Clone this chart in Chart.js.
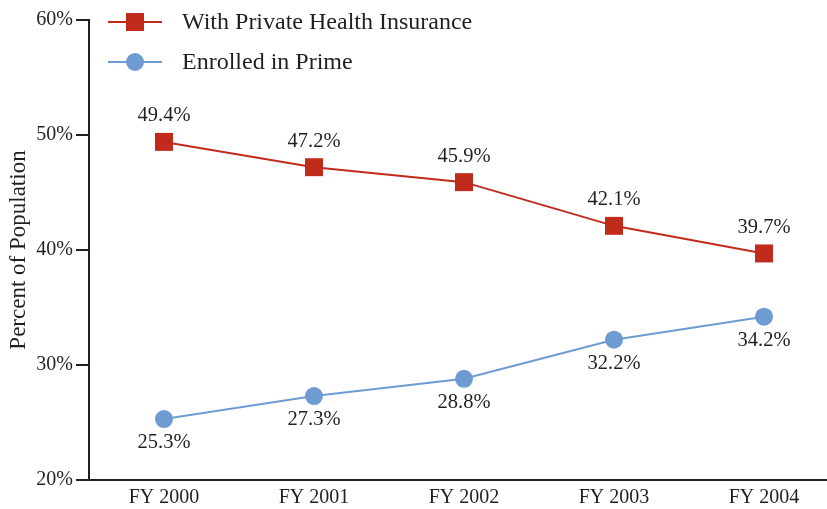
<!DOCTYPE html>
<html>
<head>
<meta charset="utf-8">
<script src="https://cdn.jsdelivr.net/npm/chart.js@4/dist/chart.umd.min.js"></script>
<style>
  body { margin: 0; background: #fff; }
  #wrap { width: 827px; height: 509px; position: relative; }
</style>
</head>
<body>
<div id="wrap"><canvas id="chart"></canvas></div>
<script>
// Datos
const categorias = ['FY 2000', 'FY 2001', 'FY 2002', 'FY 2003', 'FY 2004'];
const privada = [49.4, 47.2, 45.9, 42.1, 39.7];
const prime = [25.3, 27.3, 28.8, 32.2, 34.2];
const yTicks = [20, 30, 40, 50, 60];

const ROJO = '#c02b1c';
const AZUL = '#6f9bd3';
const TEXTO = '#231f20';
const FUENTE = '"Liberation Serif", serif';

Chart.defaults.font.family = FUENTE;
Chart.defaults.color = TEXTO;

// Etiquetas de valores sobre / bajo los puntos
const etiquetasPlugin = {
    id: 'etiquetas',
    afterDatasetsDraw(chart) {
        const ctx = chart.ctx;
        ctx.save();
        ctx.font = '20.5px ' + FUENTE;
        ctx.fillStyle = TEXTO;
        ctx.textAlign = 'center';
        ctx.textBaseline = 'middle';
        chart.data.datasets.forEach((ds, i) => {
            const meta = chart.getDatasetMeta(i);
            meta.data.forEach((pt, j) => {
                const dy = ds.etiquetaArriba ? -26 : 24;
                ctx.fillText(ds.data[j].y.toFixed(1) + '%', pt.x, pt.y + dy);
            });
        });
        ctx.restore();
    }
};

// Leyenda con línea y marcador
const leyendaPlugin = {
    id: 'leyenda',
    afterDraw(chart) {
        const ctx = chart.ctx;
        ctx.save();
        ctx.font = '24px ' + FUENTE;
        ctx.textBaseline = 'middle';
        ctx.textAlign = 'left';
        chart.data.datasets.forEach((ds, i) => {
            const y = 22 + i * 40;
            ctx.strokeStyle = ds.borderColor;
            ctx.lineWidth = 2;
            ctx.beginPath();
            ctx.moveTo(108, y);
            ctx.lineTo(162, y);
            ctx.stroke();
            ctx.fillStyle = ds.borderColor;
            if (ds.pointStyle === 'rect') {
                ctx.fillRect(126, y - 9, 18, 18);
            } else {
                ctx.beginPath();
                ctx.arc(135, y, 9, 0, Math.PI * 2);
                ctx.fill();
            }
            ctx.fillStyle = TEXTO;
            ctx.fillText(ds.label, 182, y + 1);
        });
        ctx.restore();
    }
};

const aPuntos = arr => arr.map((v, i) => ({ x: i, y: v }));

new Chart(document.getElementById('chart'), {
    type: 'line',
    data: {
        datasets: [
            {
                label: 'With Private Health Insurance',
                data: aPuntos(privada),
                borderColor: ROJO,
                backgroundColor: ROJO,
                borderWidth: 2,
                pointStyle: 'rect',
                pointRadius: 12.7,
                pointBorderWidth: 0,
                tension: 0,
                etiquetaArriba: true
            },
            {
                label: 'Enrolled in Prime',
                data: aPuntos(prime),
                borderColor: AZUL,
                backgroundColor: AZUL,
                borderWidth: 2,
                pointStyle: 'circle',
                pointRadius: 9,
                pointBorderWidth: 0,
                tension: 0,
                etiquetaArriba: false
            }
        ]
    },
    options: {
        responsive: true,
        maintainAspectRatio: false,
        animation: false,
        layout: { autoPadding: false, padding: { top: 20, right: 0, left: 0, bottom: 0 } },
        plugins: {
            legend: { display: false },
            tooltip: { enabled: false }
        },
        scales: {
            x: {
                type: 'linear',
                min: -0.5,
                max: 4.42,
                grid: { display: false, drawTicks: false },
                border: { display: true, color: TEXTO, width: 2 },
                afterBuildTicks: s => { s.ticks = categorias.map((_, i) => ({ value: i })); },
                afterFit: s => { s.height = 29; s.paddingLeft = 0; s.paddingRight = 0; },
                ticks: {
                    padding: 6,
                    font: { size: 20 },
                    color: TEXTO,
                    maxRotation: 0,
                    callback: v => categorias[v]
                }
            },
            y: {
                min: 20,
                max: 60,
                grid: { drawOnChartArea: false, drawTicks: true, tickLength: 13, color: TEXTO, lineWidth: 2 },
                border: { display: true, color: TEXTO, width: 2 },
                afterBuildTicks: s => { s.ticks = yTicks.map(v => ({ value: v })); },
                afterFit: s => { s.width = 89; s.paddingTop = 0; s.paddingBottom = 0; },
                ticks: {
                    padding: 3,
                    font: { size: 20 },
                    color: TEXTO,
                    callback: v => v + '%'
                },
                title: {
                    display: true,
                    text: 'Percent of Population',
                    font: { size: 23 },
                    color: TEXTO,
                    padding: { top: 5, bottom: 0 }
                }
            }
        }
    },
    plugins: [etiquetasPlugin, leyendaPlugin]
});
</script>
</body>
</html>
